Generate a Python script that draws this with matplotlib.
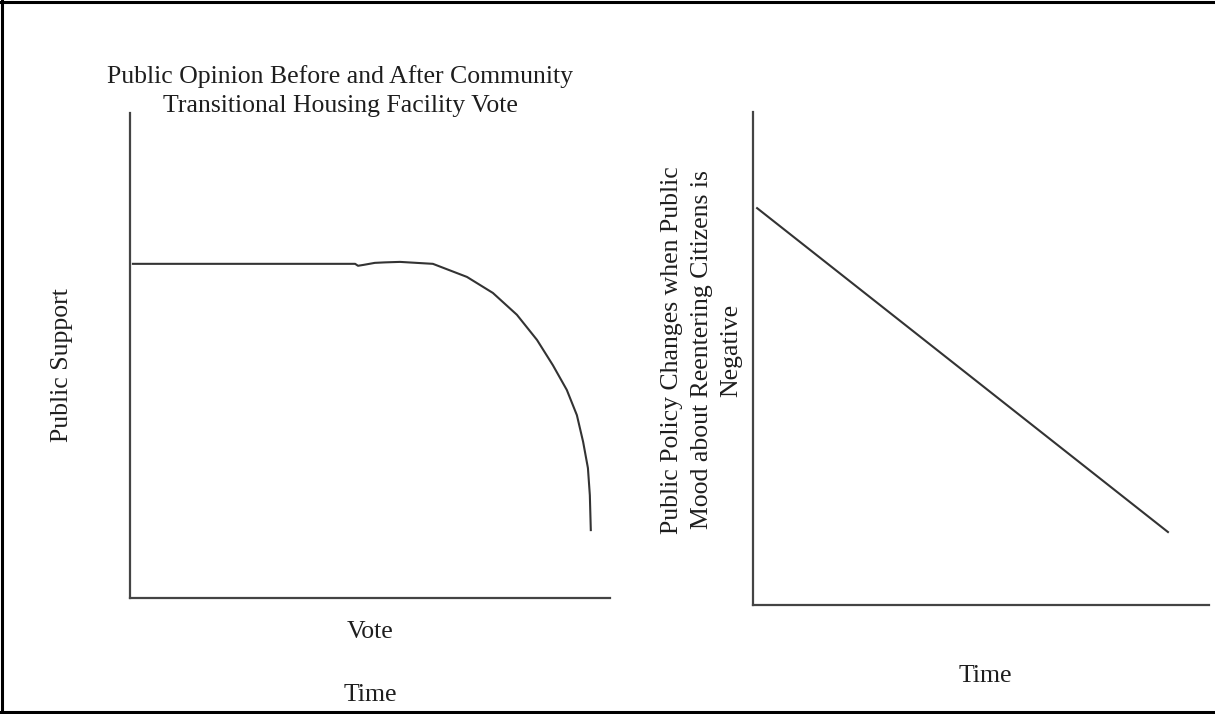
import matplotlib
matplotlib.use("Agg")
import matplotlib.pyplot as plt
from matplotlib.lines import Line2D

plt.rcParams['font.family'] = ['Liberation Serif', 'DejaVu Serif']

# left panel: public support around the vote
vote_x = [0.6, 46.9, 47.5, 48.75, 51.0, 53.1, 56.25, 63.1, 70.2, 75.6,
          80.6, 84.8, 88.1, 91.0, 93.1, 94.4, 95.4, 95.8, 96.0]
support_y = [68.9, 68.9, 68.5, 68.7, 69.1, 69.2, 69.3, 68.9, 66.2, 62.9,
             58.4, 53.2, 48.0, 42.9, 37.7, 32.2, 26.8, 21.2, 14.0]

# right panel: policy over time
time_x = [0.9, 91.0]
policy_y = [80.5, 14.8]

title_left = "Public Opinion Before and After Community\nTransitional Housing Facility Vote"
ylabel_left = "Public Support"
ylabel_right = "Public Policy Changes when Public\nMood about Reentering Citizens is\nNegative"

W, H = 1215, 714
fig = plt.figure(figsize=(W / 100, H / 100), dpi=100)

line_col = '#333333'
axis_col = '#444444'
text_col = '#1e1e1e'
fs = 18.5


def px(x0, y_top, x1, y_bot):
    return [x0 / W, 1 - y_bot / H, (x1 - x0) / W, (y_bot - y_top) / H]


def sketch_axes(rect):
    ax = fig.add_axes(rect)
    ax.set_xlim(0, 100)
    ax.set_ylim(0, 100)
    for s in ['top', 'right']:
        ax.spines[s].set_visible(False)
    for s in ['left', 'bottom']:
        ax.spines[s].set_color(axis_col)
        ax.spines[s].set_linewidth(1.6)
    ax.set_xticks([])
    ax.set_yticks([])
    ax.patch.set_alpha(0)
    return ax


ax1 = sketch_axes(px(130, 113, 610, 598))
ax1.plot(vote_x, support_y, color=line_col, lw=1.5, solid_joinstyle='round')

ax2 = sketch_axes(px(753, 112, 1209, 605))
ax2.plot(time_x, policy_y, color=line_col, lw=1.5)

# texts
fig.text(340 / W, 1 - 91 / H, title_left, ha='center', va='center',
         fontsize=fs, color=text_col, linespacing=1.45)
fig.text(62 / W, 1 - 365 / H, ylabel_left, ha='center', va='center',
         rotation=90, fontsize=fs, color=text_col)
fig.text(370 / W, 1 - 632 / H, "Vote", ha='center', va='center',
         fontsize=fs, color=text_col)
fig.text(370 / W, 1 - 695 / H, "Time", ha='center', va='center',
         fontsize=fs, color=text_col)
fig.text(702 / W, 1 - 350 / H, ylabel_right, ha='center', va='center',
         rotation=90, fontsize=fs, color=text_col, linespacing=1.45,
         multialignment='center')
fig.text(985 / W, 1 - 676 / H, "Time", ha='center', va='center',
         fontsize=fs, color=text_col)

# frame around the page (no right edge)
bw = 2.2
fig.add_artist(Line2D([0, 1], [1 - 2 / H, 1 - 2 / H], color='black', lw=bw,
                      transform=fig.transFigure))
fig.add_artist(Line2D([2 / W, 2 / W], [0, 1], color='black', lw=bw,
                      transform=fig.transFigure))
fig.add_artist(Line2D([0, 1], [1 - 712 / H, 1 - 712 / H], color='black', lw=bw,
                      transform=fig.transFigure))

fig.savefig("out.png", dpi=100)
